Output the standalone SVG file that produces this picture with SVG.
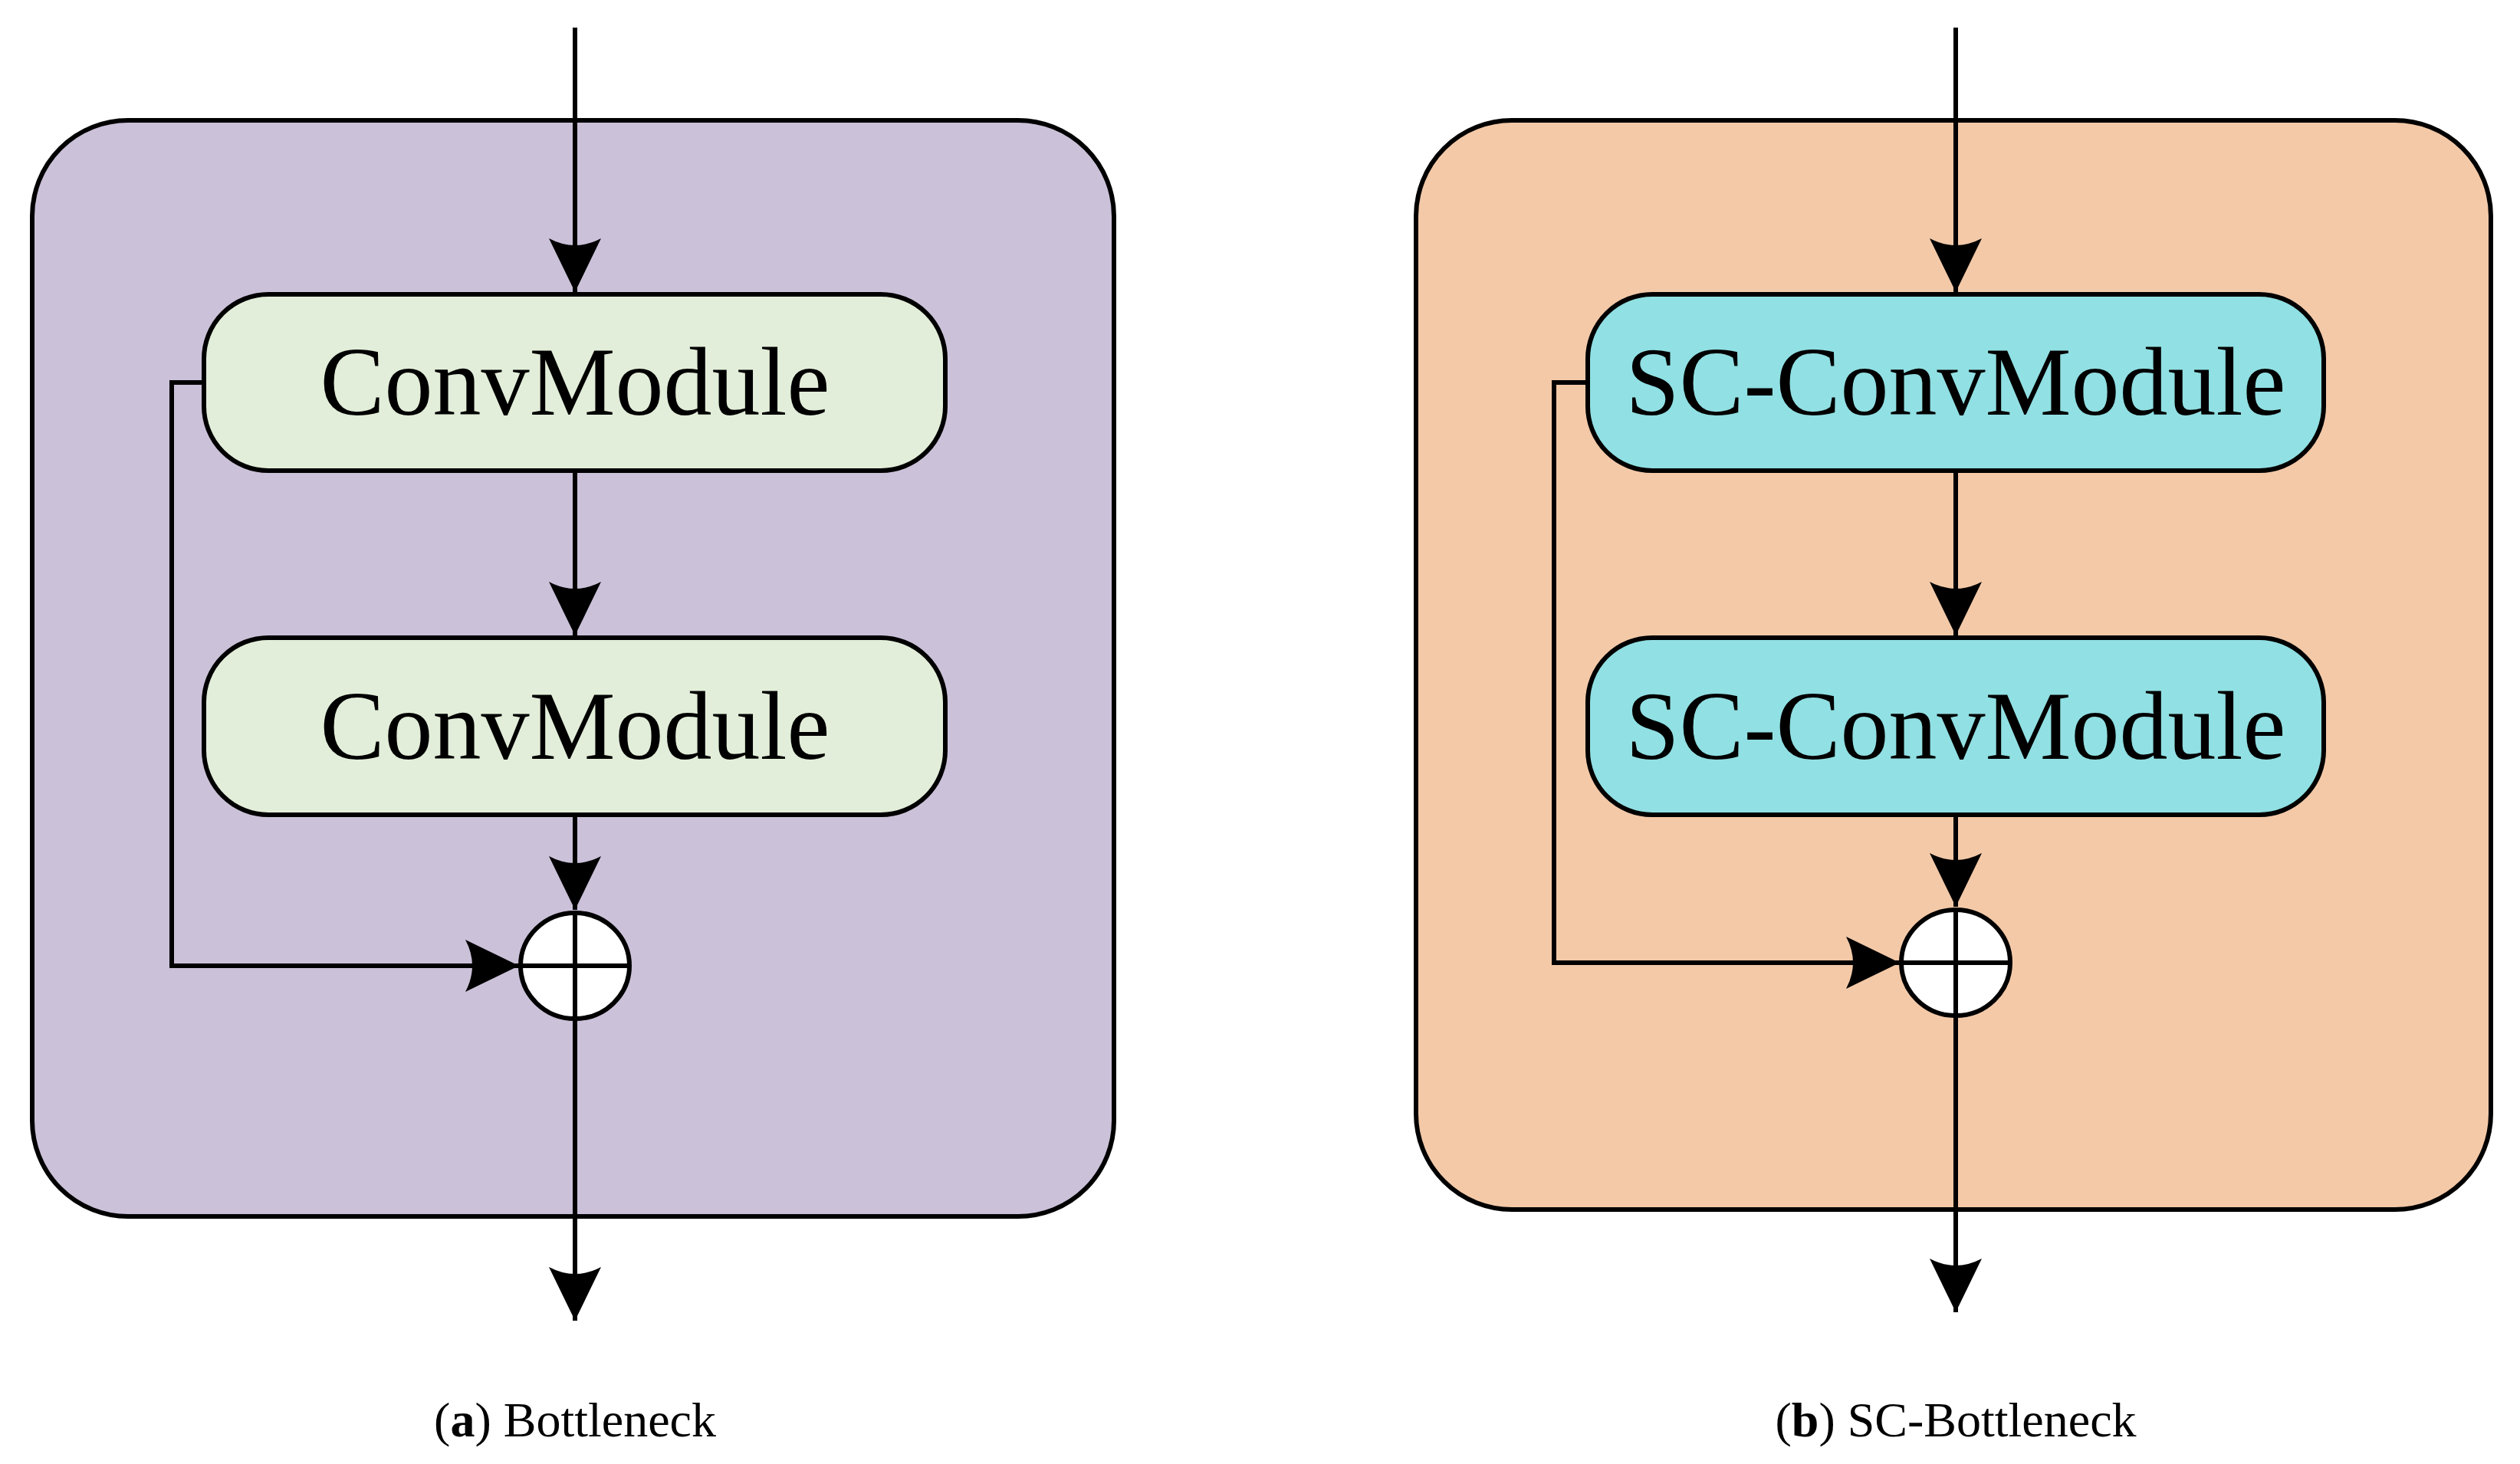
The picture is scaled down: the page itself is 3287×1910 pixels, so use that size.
<svg xmlns="http://www.w3.org/2000/svg" width="3287" height="1910" viewBox="0 0 3287 1910">
<style>
.panel{stroke:#000;stroke-width:6}
.mod{stroke:#000;stroke-width:6}
.lbl{font-family:"Liberation Serif",serif;font-size:126px;text-anchor:middle}
.cap{font-family:"Liberation Serif",serif;font-size:64px;text-anchor:middle}
.ln{fill:none;stroke:#000;stroke-width:6}
.sum{fill:#fff;stroke:#000;stroke-width:6}
</style>
<defs>
<marker id="ah" markerUnits="userSpaceOnUse" markerWidth="80" markerHeight="80" viewBox="-70 -35 80 70" refX="0" refY="0" orient="auto">
<path d="M0,0 L-70,-34 Q-52,0 -70,34 Z" fill="#000"/>
</marker>
</defs>
<rect width="3287" height="1910" fill="#fff"/>
<g id="panelA"><rect class="panel" x="42" y="157" width="1411" height="1430" rx="125" fill="#cbc1d9"/></g>
<g id="panelB"><rect class="panel" x="1847" y="157" width="1402" height="1421" rx="125" fill="#f3c9a8"/></g>
<g id="a_mod1"><rect class="mod" x="266" y="384" width="967" height="230" rx="84" fill="#e2eed9"/><text class="lbl" x="750" y="541">ConvModule</text></g>
<g id="a_mod2"><rect class="mod" x="266" y="832" width="967" height="231" rx="84" fill="#e2eed9"/><text class="lbl" x="750" y="990">ConvModule</text></g>
<g id="b_mod1"><rect class="mod" x="2071" y="384" width="960" height="230" rx="84" fill="#91e0e3"/><text class="lbl" x="2551" y="541">SC-ConvModule</text></g>
<g id="b_mod2"><rect class="mod" x="2071" y="832" width="960" height="231" rx="84" fill="#91e0e3"/><text class="lbl" x="2551" y="990">SC-ConvModule</text></g>
<g id="connectors">
<line class="ln" x1="750" y1="36" x2="750" y2="381" marker-end="url(#ah)"/>
<line class="ln" x1="750" y1="614" x2="750" y2="829" marker-end="url(#ah)"/>
<line class="ln" x1="750" y1="1063" x2="750" y2="1187" marker-end="url(#ah)"/>
<polyline class="ln" points="266,499 224,499 224,1260 677,1260" marker-end="url(#ah)"/>
<line class="ln" x1="750" y1="1331" x2="750" y2="1723" marker-end="url(#ah)"/>
<line class="ln" x1="2551" y1="36" x2="2551" y2="381" marker-end="url(#ah)"/>
<line class="ln" x1="2551" y1="614" x2="2551" y2="829" marker-end="url(#ah)"/>
<line class="ln" x1="2551" y1="1063" x2="2551" y2="1183" marker-end="url(#ah)"/>
<polyline class="ln" points="2071,499 2027,499 2027,1256 2478,1256" marker-end="url(#ah)"/>
<line class="ln" x1="2551" y1="1327" x2="2551" y2="1712" marker-end="url(#ah)"/>
</g>
<g id="a_sum"><ellipse class="sum" cx="750" cy="1260" rx="71" ry="69"/><line class="ln" x1="679" y1="1260" x2="821" y2="1260"/><line class="ln" x1="750" y1="1191" x2="750" y2="1329"/></g>
<g id="b_sum"><ellipse class="sum" cx="2551" cy="1256" rx="71" ry="69"/><line class="ln" x1="2480" y1="1256" x2="2622" y2="1256"/><line class="ln" x1="2551" y1="1187" x2="2551" y2="1325"/></g>
<text class="cap" x="750" y="1874">(<tspan font-weight="bold">a</tspan>) Bottleneck</text>
<text class="cap" x="2551" y="1874">(<tspan font-weight="bold">b</tspan>) SC-Bottleneck</text>
</svg>
